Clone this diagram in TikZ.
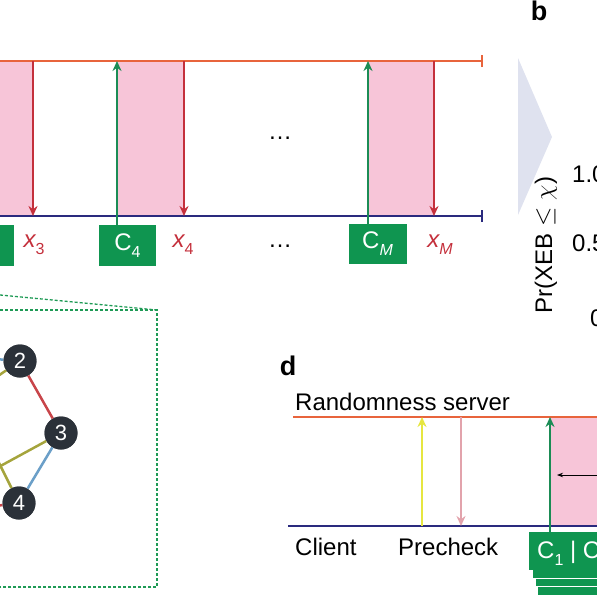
\documentclass[tikz,border=0pt]{standalone}
\usepackage{fontspec}
\setmainfont{Liberation Sans}
\usetikzlibrary{arrows.meta}
\definecolor{srvline}{HTML}{E8643C}
\definecolor{cliline}{HTML}{2A2A7E}
\definecolor{pinkfill}{HTML}{F7C5D8}
\definecolor{redarr}{HTML}{C4303C}
\definecolor{grn}{HTML}{0F9550}
\definecolor{grnarr}{HTML}{1B8C55}
\definecolor{nodedark}{HTML}{2B3139}
\definecolor{edgered}{HTML}{C8454A}
\definecolor{edgeblue}{HTML}{6B9FC8}
\definecolor{edgeolive}{HTML}{A5A43C}
\definecolor{trigray}{HTML}{DFE2EF}
\definecolor{yelarr}{HTML}{E6E640}
\definecolor{palered}{HTML}{E2A3AC}
\definecolor{dashgrn}{HTML}{1E9A55}
\newcommand\lowidx[1]{\raisebox{-0.3em}{\fontsize{16}{16}\selectfont #1}}
\tikzset{
  srv/.style={srvline, line width=2pt},
  cli/.style={cliline, line width=2pt},
  redown/.style={redarr, line width=1.8pt, -{Stealth[length=10pt,width=9pt]}},
  gup/.style={grnarr, line width=1.8pt, -{Stealth[length=10pt,width=9pt]}},
  gbox/.style={fill=grn, text=white, inner sep=0pt, font=\fontsize{24}{26}\selectfont},
  xlab/.style={text=redarr, inner sep=0pt, font=\fontsize{24}{26}\selectfont},
  qnode/.style={circle, fill=nodedark, minimum size=33pt, inner sep=0pt, text=white, font=\fontsize{22}{22}\selectfont},
  qedge/.style={line width=2.5pt},
  lbl/.style={inner sep=0pt, font=\fontsize{24}{26}\selectfont},
  panel/.style={inner sep=0pt, font=\fontsize{27}{28}\selectfont\bfseries},
  stackbox/.style={fill=grn, draw=white, line width=0.6pt},
}
\begin{document}
\begin{tikzpicture}[x=1pt, y=-1pt]
\useasboundingbox (0,0) rectangle (597,597);

% ---------------- panel a ----------------
\fill[pinkfill] (-10,61) rectangle (33,216);
\fill[pinkfill] (118,61) rectangle (184,216);
\fill[pinkfill] (368,61) rectangle (434,216);

\coordinate (sa0) at (-5,61);
\coordinate (sa1) at (482,61);
\coordinate (ca0) at (-5,216);
\coordinate (ca1) at (482,216);
\draw[srv] (sa0) -- (sa1);
\draw[srv] ([yshift=-6pt]sa1) -- ([yshift=6pt]sa1);
\draw[cli] (ca0) -- (ca1);
\draw[cli] ([yshift=-6pt]ca1) -- ([yshift=6pt]ca1);

% down arrows (outputs)
\coordinate (r3t) at (33,61);  \coordinate (r3b) at (33,216);
\coordinate (r4t) at (184,61); \coordinate (r4b) at (184,216);
\coordinate (rMt) at (434,61); \coordinate (rMb) at (434,216);
\draw[redown] (r3t) -- (r3b);
\draw[redown] (r4t) -- (r4b);
\draw[redown] (rMt) -- (rMb);

% circuit boxes
\node[gbox, minimum width=57pt, minimum height=41pt] (c3) at (-15,245.5) {};
\node[gbox, minimum width=57pt, minimum height=41pt] (c4) at (127.5,245.5) {C\lowidx{4}};
\node[gbox, minimum width=58pt, minimum height=40pt] (cM) at (377.5,244) {C\lowidx{\itshape M}};

\coordinate (g4) at (117,61);
\coordinate (gM) at (368,61);
\draw[gup] (c4.north -| g4) -- (g4);
\draw[gup] (cM.north -| gM) -- (gM);

\node[xlab] (x3) at (34,245) {\itshape x\lowidx{\upshape 3}};
\node[xlab] (x4) at (183,245) {\itshape x\lowidx{\upshape 4}};
\node[xlab] (xM) at (440,245) {\itshape x\lowidx{M}};

\node[lbl] (dotstop) at (280,138) {\dots};
\node[lbl] (dotsbot) at (280,246) {\dots};

% arrow-shaped separator
\fill[trigray] (518,58) -- (552,137) -- (518,215) -- cycle;

% ---------------- panel b (cut) ----------------
\node[panel, anchor=base] (pb) at (539,20) {b};
\node[lbl, rotate=90] (ylab) at (546,245) {Pr(XEB $\leq\chi$)};
\node[lbl, anchor=west] (t10) at (572,174) {1.0};
\node[lbl, anchor=west] (t05) at (572,243) {0.5};
\node[lbl, anchor=west] (t00) at (590,318) {0};

% ---------------- panel c ----------------
\coordinate (zc0) at (-5,294.5);
\coordinate (zc1) at (157,310);
\draw[dashgrn, line width=1.3pt, dash pattern=on 3pt off 2pt] (zc0) -- (zc1);
\draw[dashgrn, line width=1.3pt, dash pattern=on 3pt off 2pt]
  (-5,310) -- (zc1) -- (157,587) -- (-5,587);

\node[qnode] (q2) at (20,361) {2};
\node[qnode] (q3) at (61,433) {3};
\node[qnode] (q4) at (19,503) {4};
\coordinate (e2b) at (-5,359);
\coordinate (e2o) at (-5,378);
\coordinate (e3o) at (-5,469);
\coordinate (e4o) at (-5,455);
\coordinate (e4r) at (-5,506);
\draw[qedge, edgered] (q2) -- (q3);
\draw[qedge, edgeblue] (q3) -- (q4);
\draw[qedge, edgeblue] (e2b) -- (q2);
\draw[qedge, edgeolive] (e2o) -- (q2);
\draw[qedge, edgeolive] (e3o) -- (q3);
\draw[qedge, edgeolive] (e4o) -- (q4);
\draw[qedge, edgered] (e4r) -- (q4);
% redraw nodes on top of edges
\node[qnode] at (q2) {2};
\node[qnode] at (q3) {3};
\node[qnode] at (q4) {4};

% ---------------- panel d ----------------
\node[panel] (pd) at (288,366) {d};
\node[lbl, anchor=west] (rs) at (295,402) {Randomness server};
\fill[pinkfill] (550,417) rectangle (610,526);
\coordinate (sd0) at (293,417); \coordinate (sd1) at (610,417);
\coordinate (cd0) at (288,526); \coordinate (cd1) at (610,526);
\draw[srv] (sd0) -- (sd1);
\draw[cli] (cd0) -- (cd1);

\node[lbl, anchor=west] (cl) at (295,547) {Client};
\node[lbl, anchor=west] (pc) at (398,547) {Precheck};

\coordinate (yb) at (422,526); \coordinate (yt) at (422,417);
\draw[yelarr, line width=1.8pt, -{Stealth[length=10pt,width=9pt]}] (yb) -- (yt);
\coordinate (pt) at (461,417); \coordinate (pbm) at (461,526);
\draw[palered, line width=1.8pt, -{Stealth[length=10pt,width=9pt]}] (pt) -- (pbm);

\fill[stackbox] (537,556) rectangle (640,595);
\fill[stackbox] (535,548) rectangle (640,586);
\fill[stackbox] (532,540) rectangle (640,578);
\node[gbox, anchor=north west, minimum width=110pt, minimum height=38pt] (cb) at (529,532) {};
\node[lbl, text=white, anchor=west] (cbt) at (537,553) {C\lowidx{1} | C};
\coordinate (gd) at (550,417);
\draw[gup] (cb.north -| gd) -- (gd);

\coordinate (ka) at (610,475); \coordinate (kb) at (557,475);
\draw[black, line width=0.8pt, -{Stealth[length=6pt,width=4.5pt]}] (ka) -- (kb);
\end{tikzpicture}
\end{document}
